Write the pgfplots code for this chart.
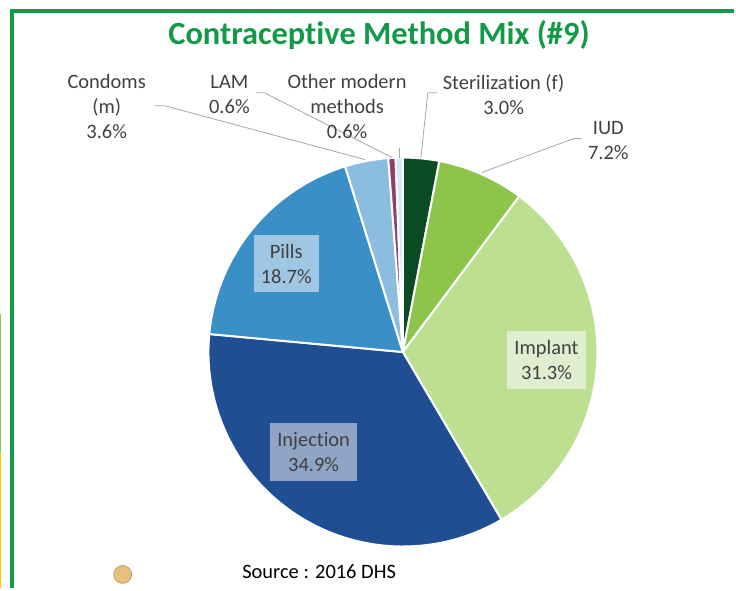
\documentclass[border=0pt]{standalone}
\usepackage{fontspec}
\setmainfont{Carlito}[Ligatures=NoCommon]
\usepackage{pgfplots}
\pgfplotsset{compat=1.18}
\definecolor{ttl}{RGB}{18,154,72}
\definecolor{lbl}{RGB}{64,64,64}
\definecolor{lead}{RGB}{166,166,166}
\definecolor{cSter}{RGB}{11,75,36}
\definecolor{cIUD}{RGB}{141,196,74}
\definecolor{cImp}{RGB}{189,223,144}
\definecolor{cInj}{RGB}{31,78,146}
\definecolor{cPill}{RGB}{58,143,199}
\definecolor{cCond}{RGB}{139,189,224}
\definecolor{cLAM}{RGB}{142,63,110}
\definecolor{cOth}{RGB}{216,232,245}
\definecolor{bPill}{RGB}{159,199,228}
\definecolor{bInj}{RGB}{142,165,198}
\definecolor{bImp}{RGB}{224,238,208}
\definecolor{lgreen}{RGB}{141,198,63}
\definecolor{yel}{RGB}{255,204,0}
\definecolor{tan}{RGB}{232,192,125}
\definecolor{tanb}{RGB}{184,147,90}
% shares (%), clockwise from the top
\def\vSter{3.0}\def\vIUD{7.2}\def\vImp{31.3}\def\vInj{34.9}
\def\vPill{18.7}\def\vCond{3.6}\def\vLAM{0.6}\def\vOth{0.6}
\pgfmathsetmacro\tot{\vSter+\vIUD+\vImp+\vInj+\vPill+\vCond+\vLAM+\vOth}
\pgfmathsetmacro\aA{90}
\pgfmathsetmacro\aB{\aA-360*\vSter/\tot}
\pgfmathsetmacro\aC{\aB-360*\vIUD/\tot}
\pgfmathsetmacro\aD{\aC-360*\vImp/\tot}
\pgfmathsetmacro\aE{\aD-360*\vInj/\tot}
\pgfmathsetmacro\aF{\aE-360*\vPill/\tot}
\pgfmathsetmacro\aG{\aF-360*\vCond/\tot}
\pgfmathsetmacro\aH{\aG-360*\vLAM/\tot}
\pgfmathsetmacro\aI{\aH-360*\vOth/\tot}
\newcommand\slice[3]{%
  \addplot[fill=#3, draw=white, line width=2pt, line join=round, domain=#2:#1, samples=90, variable=\t]
    ({404+195*cos(t)},{237+195*sin(t)}) -- (axis cs:404,237) -- cycle;}
\begin{document}
\begin{tikzpicture}
\begin{axis}[
  xmin=0, xmax=736, ymin=0, ymax=590,
  width=736pt, height=590pt, scale only axis,
  hide axis, clip=false,
]
\path (axis cs:0,0) rectangle (axis cs:736,590);
% frame
\draw[ttl, line width=4pt] (axis cs:12,0) -- (axis cs:12,579) -- (axis cs:736,579);
\draw[lgreen, line width=1.5pt] (axis cs:0.75,275) -- (axis cs:0.75,137);
\draw[yel, line width=1.5pt] (axis cs:0.75,137) -- (axis cs:0.75,0);
% slices
\slice{\aA}{\aB}{cSter}
\slice{\aB}{\aC}{cIUD}
\slice{\aC}{\aD}{cImp}
\slice{\aD}{\aE}{cInj}
\slice{\aE}{\aF}{cPill}
\slice{\aF}{\aG}{cCond}
\slice{\aG}{\aH}{cLAM}
\slice{\aH}{\aI}{cOth}
% title
\node[font=\fontsize{32.5}{38}\selectfont\bfseries, text=ttl] at (axis cs:380,555) {Contracept\kern0pt ive Method Mix (\#9)};
% leader lines
\draw[lead, line width=0.8pt] (axis cs:155,484) -- (axis cs:165,484) -- (axis cs:366,430);
\draw[lead, line width=0.8pt] (axis cs:257,497) -- (axis cs:265,497) -- (axis cs:393,432);
\draw[lead, line width=0.8pt] (axis cs:400,442) -- (axis cs:400,432);
\draw[lead, line width=0.8pt] (axis cs:438,497) -- (axis cs:429,497) -- (axis cs:422,432);
\draw[lead, line width=0.8pt] (axis cs:583,451) -- (axis cs:575,451) -- (axis cs:483,417);
% outer labels
\begin{scope}[every node/.style={font=\fontsize{20.5}{25}\selectfont, text=lbl, align=center, inner sep=0pt}]
\node at (axis cs:107,483) {Condoms\\(m)\\3.6\%};
\node at (axis cs:230,495.5) {LAM\\0.6\%};
\node at (axis cs:348,483) {Other modern\\methods\\0.6\%};
\node at (axis cs:505,495.5) {Steriliza\kern0pt t\kern0pt ion (f)\\3.0\%};
\node at (axis cs:610,449.5) {IUD\\7.2\%};
\node[fill=bPill, minimum width=65pt, minimum height=57pt] at (axis cs:287,325.5) {Pills\\18.7\%};
\node[fill=bInj, minimum width=87pt, minimum height=58pt] at (axis cs:314.5,137) {Injec\kern0pt t\kern0pt ion\\34.9\%};
\node[fill=bImp, minimum width=80pt, minimum height=58pt] at (axis cs:548,229) {Implant\\31.3\%};
\node[text=black] at (axis cs:320,17) {Source : 2016 DHS};
\end{scope}
\draw[tanb, fill=tan, line width=0.6pt] (axis cs:123,14) circle[radius=9pt];
\end{axis}
\end{tikzpicture}
\end{document}
